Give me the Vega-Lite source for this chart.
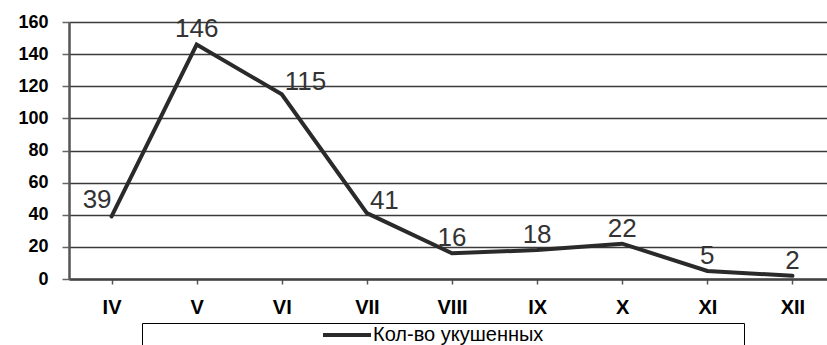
{
  "$schema": "https://vega.github.io/schema/vega-lite/v6.json",
  "autosize": {"type": "none"},
  "padding": {"left": 69, "top": 22, "right": 0, "bottom": 66},
  "width": 766,
  "height": 257,
  "background": "white",
  "data": {"values": [
    {"m": "IV", "v": 39},
    {"m": "V", "v": 146},
    {"m": "VI", "v": 115},
    {"m": "VII", "v": 41},
    {"m": "VIII", "v": 16},
    {"m": "IX", "v": 18},
    {"m": "X", "v": 22},
    {"m": "XI", "v": 5},
    {"m": "XII", "v": 2}
  ]},
  "config": {
    "font": "Liberation Sans",
    "view": {"stroke": null},
    "axis": {"labelFont": "Liberation Sans", "labelColor": "#000"}
  },
  "encoding": {
    "x": {"field": "m", "type": "nominal", "sort": null, "title": null,
      "scale": {"paddingInner": 0, "paddingOuter": 0},
      "axis": {"labelAngle": 0, "labelFontSize": 20, "labelFontWeight": "bold", "labelPadding": 13,
        "bandPosition": 0, "tickSize": 5, "tickColor": "#555", "tickWidth": 1.5,
        "domainColor": "#444", "domainWidth": 2.5, "grid": false}},
    "y": {"field": "v", "type": "quantitative", "title": null,
      "scale": {"domain": [0, 160], "nice": false},
      "axis": {"values": [0, 20, 40, 60, 80, 100, 120, 140, 160], "labelFontSize": 18, "labelFontWeight": "bold",
        "labelPadding": 14, "tickSize": 7, "tickColor": "#666", "tickWidth": 1.5,
        "domainColor": "#555", "domainWidth": 2.5,
        "grid": true, "gridColor": "#3a3a3a", "gridWidth": 1.3}}
  },
  "layer": [
    {
      "mark": {"type": "line", "strokeWidth": 4, "strokeJoin": "miter", "strokeCap": "round"},
      "encoding": {
        "color": {"datum": "Кол-во укушенных",
          "scale": {"range": ["#2a2a2a"]},
          "legend": {"title": null,
            "orient": "none", "legendX": 73, "legendY": 301,
            "strokeColor": "#000", "padding": 2,
            "symbolType": "M-3,0H3", "symbolSize": 256, "symbolStrokeWidth": 4,
            "symbolOffset": 193, "labelOffset": 16,
            "labelFontSize": 20, "labelColor": "#000", "labelLimit": 1000,
            "labelExpr": "pad(datum.label, 49, '\u00a0') + '\u2800'"}}
      }
    },
    {
      "transform": [{"filter": {"field": "m", "oneOf": ["V", "VIII", "IX", "X", "XI", "XII"]}}],
      "mark": {"type": "text", "fontSize": 26, "color": "#333", "baseline": "alphabetic", "align": "center", "dy": -7},
      "encoding": {"text": {"field": "v", "type": "quantitative"}}
    },
    {
      "transform": [{"filter": {"field": "m", "oneOf": ["VI", "VII"]}}],
      "mark": {"type": "text", "fontSize": 26, "color": "#333", "baseline": "alphabetic", "align": "left", "dx": 3, "dy": -4},
      "encoding": {"text": {"field": "v", "type": "quantitative"}}
    },
    {
      "transform": [{"filter": {"field": "m", "oneOf": ["IV"]}}],
      "mark": {"type": "text", "fontSize": 26, "color": "#333", "baseline": "alphabetic", "align": "right", "dx": 0, "dy": -8},
      "encoding": {"text": {"field": "v", "type": "quantitative"}}
    }
  ]
}
